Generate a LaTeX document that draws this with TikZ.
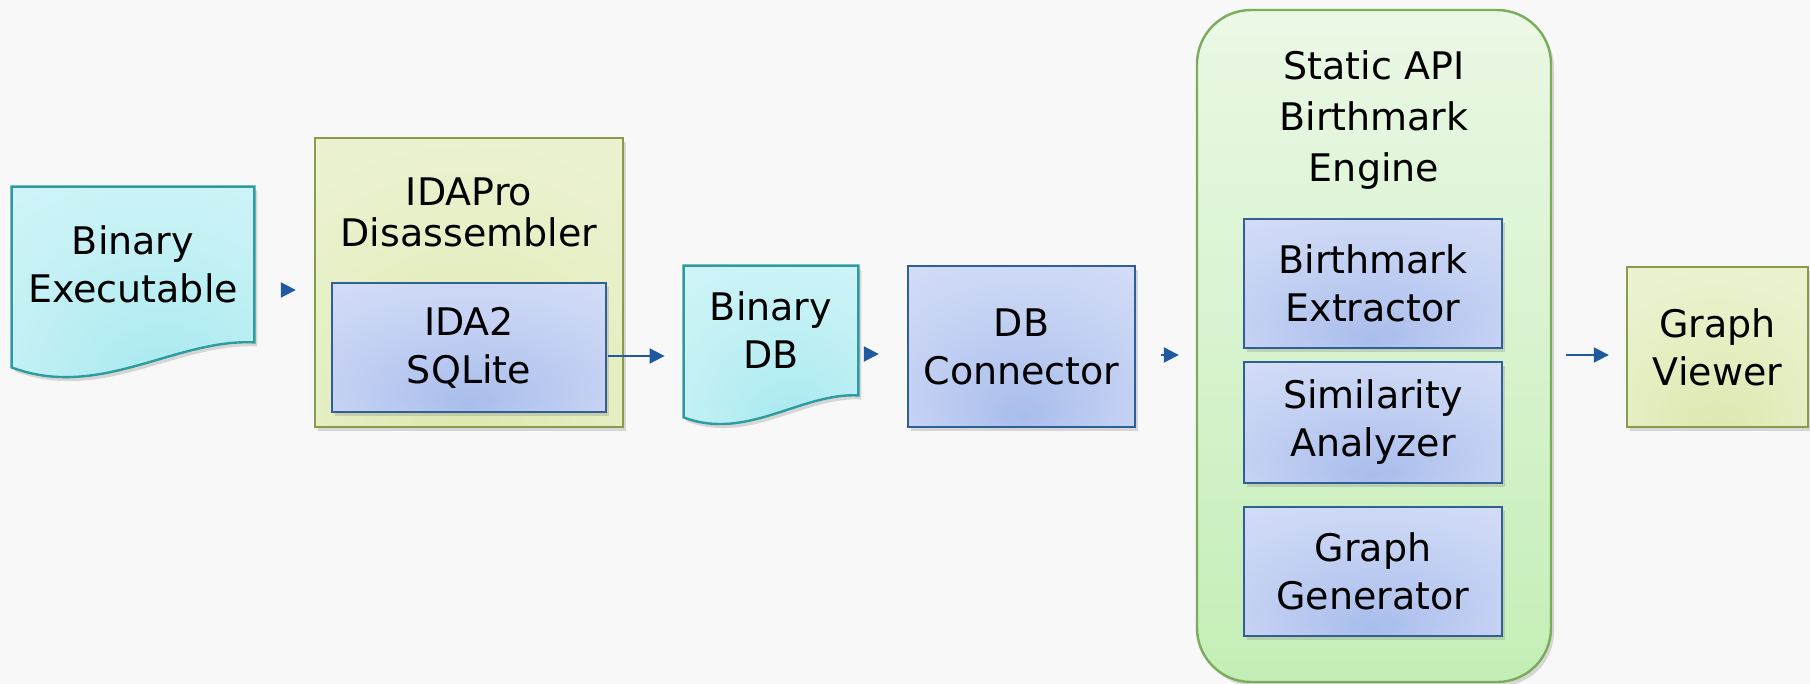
\documentclass[tikz,border=0pt]{standalone}
\usepackage{fontspec}
\setmainfont{DejaVu Sans}
\usetikzlibrary{shadows,arrows.meta,calc}

% palette
\definecolor{bgcol}{HTML}{F8F8F8}
\definecolor{arrcol}{HTML}{1F5AA0}
\definecolor{bluebd}{HTML}{2F5F95}
\definecolor{bcore}{HTML}{A9BDEC}
\definecolor{bmid}{HTML}{C8D4F4}
\definecolor{bedge}{HTML}{EAEEFB}
\definecolor{ygbd}{HTML}{8B9B4E}
\definecolor{ygcore}{HTML}{DCE8AE}
\definecolor{ygmid}{HTML}{E8F0C8}
\definecolor{ygedge}{HTML}{F5F8E6}
\definecolor{cybd}{HTML}{2E9C9E}
\definecolor{cycore}{HTML}{A2E8EF}
\definecolor{cymid}{HTML}{C4F1F5}
\definecolor{cyedge}{HTML}{E6FAFC}
\definecolor{grbd}{HTML}{7AAC5C}
\definecolor{grtop}{HTML}{EBF8E6}
\definecolor{grbot}{HTML}{C4EEB6}

% soft glows, brightest at the edges, deepest low in the middle
\pgfdeclareradialshading{blueglow}{\pgfpoint{0bp}{-22bp}}%
  {color(0bp)=(bcore); color(28bp)=(bmid); color(68bp)=(bedge)}
\pgfdeclareradialshading{ygglow}{\pgfpoint{0bp}{-30bp}}%
  {color(0bp)=(ygcore); color(30bp)=(ygmid); color(75bp)=(ygedge)}
\pgfdeclareradialshading{cyglow}{\pgfpoint{8bp}{-28bp}}%
  {color(0bp)=(cycore); color(30bp)=(cymid); color(75bp)=(cyedge)}

\pgfdeclarelayer{canvas}
\pgfdeclarelayer{back}
\pgfsetlayers{canvas,back,main}

\tikzset{
  txt/.style={font=\fontsize{19}{24}\selectfont, align=center, text=black},
  shad/.style={drop shadow={opacity=0.28, shadow xshift=1.5pt, shadow yshift=-2pt}},
  bluebox/.style={txt, rectangle, draw=bluebd, line width=1.2pt, shading=blueglow, shad, inner sep=0pt},
  ygbox/.style={txt, rectangle, draw=ygbd, line width=1.2pt, shading=ygglow, shad, inner sep=0pt},
  engbox/.style={rectangle, rounded corners=27pt, draw=grbd, line width=1.2pt,
    top color=grtop, bottom color=grbot, shad, inner sep=0pt},
  docnode/.style={txt, rectangle, inner sep=0pt},
  docshape/.style={draw=cybd, line width=1.2pt, shading=cyglow, shad},
  arr/.style={draw=arrcol, line width=1pt, -{Triangle[length=7.5pt, width=7.5pt]}},
}

\begin{document}
\begin{tikzpicture}[x=0.5pt, y=-0.5pt]
\useasboundingbox (0,0) rectangle (1810,684);
\begin{pgfonlayer}{canvas}
  \fill[bgcol] (0,0) rectangle (1810,684);
\end{pgfonlayer}

% input executable (document symbol)
\node[docnode, minimum width=121pt, minimum height=77.5pt] (exe) at (133,264.5)
  {Binary\\Executable};
\begin{pgfonlayer}{back}
  \path[docshape] (exe.north west) -- (exe.north east) -- (exe.south east)
    .. controls +(-79,-4) and +(88,33) .. ([yshift=-12.5pt]exe.south west) -- cycle;
\end{pgfonlayer}

% disassembler with its export plug-in
\node[ygbox, minimum width=154pt, minimum height=144.5pt] (ida) at (469,282.5) {};
\node[txt, font=\fontsize{19}{20.5}\selectfont] (idatitle) at (469,212) {IDAPro\\Disassembler};
\node[bluebox, minimum width=137pt, minimum height=64.5pt] (ida2) at (469,347.5) {IDA2\\SQLite};

% exported database (document symbol)
\node[docnode, minimum width=87pt, minimum height=64.5pt] (db) at (771,330.5) {Binary\\DB};
\begin{pgfonlayer}{back}
  \path[docshape] (db.north west) -- (db.north east) -- (db.south east)
    .. controls +(-57,-3) and +(63,24) .. ([yshift=-11pt]db.south west) -- cycle;
\end{pgfonlayer}

% database access layer
\node[bluebox, minimum width=113.5pt, minimum height=80.5pt] (dbc) at (1021.5,346.5) {DB\\Connector};

% birthmark engine and its components
\node[engbox, minimum width=177pt, minimum height=336pt] (eng) at (1374,346) {};
\node[txt, font=\fontsize{19}{25.5}\selectfont] (engtitle) at (1374,120) {Static API\\Birthmark\\Engine};
\node[bluebox, minimum width=129pt, minimum height=64.5pt] (bx1) at (1373,283.5) {Birthmark\\Extractor};
\node[bluebox, minimum width=129pt, minimum height=60.5pt] (bx2) at (1373,422.5) {Similarity\\Analyzer};
\node[bluebox, minimum width=129pt, minimum height=64.5pt] (bx3) at (1373,571.5) {Graph\\Generator};

% result viewer
\node[ygbox, minimum width=90.5pt, minimum height=80pt] (gv) at (1717.5,347) {Graph\\Viewer};

% data flow
\coordinate (y1) at (0,290);
\coordinate (y2) at (0,356);
\coordinate (y3) at (0,354);
\coordinate (y4) at (0,355);
\draw[arr, shorten <=14pt, shorten >=9pt] (exe.east |- y1) -- (ida.west |- y1);
\draw[arr, shorten <=0.5pt, shorten >=9.5pt] (ida2.east |- y2) -- (db.west |- y2);
\draw[arr, shorten <=3.5pt, shorten >=14pt] (db.east |- y3) -- (dbc.west |- y3);
\draw[arr, shorten <=12.5pt, shorten >=8.5pt] (dbc.east |- y4) -- (eng.west |- y4);
\draw[arr, shorten <=7pt, shorten >=8.5pt] (eng.east |- y4) -- (gv.west |- y4);
\end{tikzpicture}
\end{document}
